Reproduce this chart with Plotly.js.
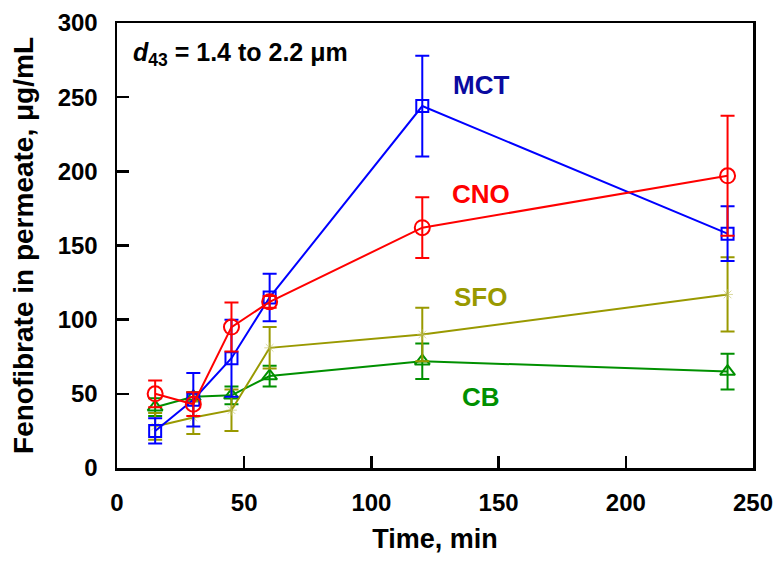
<!DOCTYPE html>
<html>
<head>
<meta charset="utf-8">
<script src="https://cdn.plot.ly/plotly-3.0.1.min.js"></script>
<style>html,body{margin:0;padding:0;background:#fff;overflow:hidden;}#chart{width:775px;height:561px;}</style>
</head>
<body>
<div id="chart"></div>
<script>
const time = [15, 30, 45, 60, 120, 240];
const mct = [25, 46, 74, 115, 244, 158];
const mctErr = [8.5, 18, 26, 16, 34, 18.5];
const cno = [50, 43, 95, 112, 162, 197];
const cnoErr = [9, 8, 16.5, 4, 20.5, 40.5];
const sfo = [28, 34, 39, 81, 90, 117];
const sfoErr = [9, 11, 14, 14, 18, 25];
const cb = [41, 48, 49, 62, 72, 65];
const cbErr = [6, 3, 6, 7, 12, 12];
const seriesNames = ["MCT", "CNO", "SFO", "CB"];
const labelX = [143, 143, 143, 143];
const labelY = [258, 185, 115, 48];

const FONT = "Liberation Sans, Arial, sans-serif";

function series(y, err, color, symbol, size, name, mColor, mWidth) {
  return {
    x: time, y: y, name: name, type: "scatter", mode: "lines+markers",
    line: {color: color, width: 2},
    marker: {symbol: symbol, size: size, color: mColor || color, line: {color: mColor || color, width: mWidth || 2}},
    error_y: {type: "data", array: err, visible: true, color: color, thickness: 2, width: 7},
    cliponaxis: false
  };
}

const data = [
  series(cb, cbErr, "#009000", "triangle-up-open", 13, "CB"),
  series(sfo, sfoErr, "#999900", "asterisk-open", 9, "SFO", "rgba(190,190,90,0.6)", 1),
  series(mct, mctErr, "#0000ff", "square-open", 12, "MCT"),
  series(cno, cnoErr, "#ff0000", "circle-open", 15, "CNO")
];

const labelColors = ["#0a0aa0", "#ff0000", "#999900", "#009000"];
const annotations = seriesNames.map((n, i) => ({
  x: labelX[i], y: labelY[i], xref: "x", yref: "y", text: n, showarrow: false,
  font: {family: FONT, size: 26, color: labelColors[i], weight: "bold"}
}));
annotations.push({
  x: 0.022, y: 0.93, xref: "paper", yref: "paper", xanchor: "left", yanchor: "middle",
  text: "<i>d</i><sub>43</sub> = 1.4 to 2.2 μm", showarrow: false,
  font: {family: FONT, size: 25, color: "#000", weight: "bold"}
});

const axisCommon = {
  showgrid: false, zeroline: false, showline: true, mirror: true,
  linecolor: "#000", linewidth: 2.5, ticks: "inside", ticklen: 12, tickwidth: 2.5, tickcolor: "#000",
  tickfont: {family: FONT, size: 24, color: "#000", weight: "bold"}, dtick: 50,
  ticklabeloverflow: "allow"
};

const layout = {
  width: 775, height: 561,
  margin: {l: 117, r: 22, t: 23, b: 93},
  paper_bgcolor: "#fff", plot_bgcolor: "#fff",
  showlegend: false,
  xaxis: Object.assign({}, axisCommon, {
    range: [0, 250], tick0: 0, ticklabelstandoff: 12,
    title: {text: "Time, min", font: {family: FONT, size: 27, color: "#000", weight: "bold"}, standoff: 14}
  }),
  yaxis: Object.assign({}, axisCommon, {
    range: [0, 300], tick0: 0, ticklabelstandoff: 12,
    title: {text: "Fenofibrate in permeate, μg/mL", font: {family: FONT, size: 28, color: "#000", weight: "bold"}, standoff: 16}
  }),
  annotations: annotations
};

Plotly.newPlot("chart", data, layout, {displayModeBar: false, staticPlot: true});
</script>
</body>
</html>
